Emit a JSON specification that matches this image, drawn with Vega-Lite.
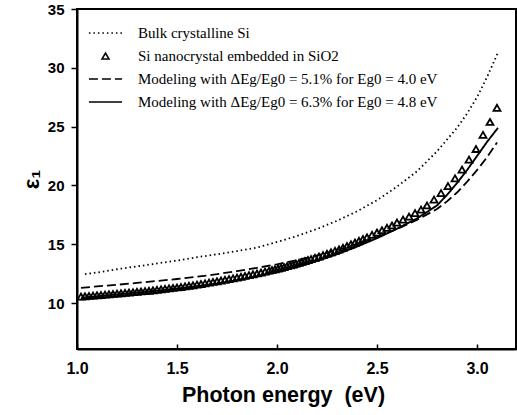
{
  "$schema": "https://vega.github.io/schema/vega-lite/v6.json",
  "width": 439,
  "height": 340,
  "autosize": "none",
  "padding": {"left": 77, "top": 9, "right": 1, "bottom": 66},
  "background": "white",
  "datasets": {
    "bulk": [
      {"E": 1.04, "eps": 12.47}, {"E": 1.1, "eps": 12.6}, {"E": 1.2, "eps": 12.88}, {"E": 1.3, "eps": 13.12},
      {"E": 1.4, "eps": 13.37}, {"E": 1.5, "eps": 13.62}, {"E": 1.6, "eps": 13.9}, {"E": 1.7, "eps": 14.15},
      {"E": 1.8, "eps": 14.42}, {"E": 1.9, "eps": 14.72}, {"E": 2.0, "eps": 15.2}, {"E": 2.1, "eps": 15.7},
      {"E": 2.2, "eps": 16.3}, {"E": 2.3, "eps": 17.0}, {"E": 2.4, "eps": 17.8}, {"E": 2.5, "eps": 18.75},
      {"E": 2.6, "eps": 19.9}, {"E": 2.7, "eps": 21.2}, {"E": 2.8, "eps": 22.9}, {"E": 2.9, "eps": 24.9},
      {"E": 2.95, "eps": 26.1}, {"E": 3.0, "eps": 27.5}, {"E": 3.05, "eps": 29.2}, {"E": 3.105, "eps": 31.3}
    ],
    "m1": [
      {"E": 1.02, "eps": 11.3}, {"E": 1.1, "eps": 11.42}, {"E": 1.2, "eps": 11.56}, {"E": 1.3, "eps": 11.72},
      {"E": 1.4, "eps": 11.88}, {"E": 1.5, "eps": 12.05}, {"E": 1.6, "eps": 12.24}, {"E": 1.7, "eps": 12.46},
      {"E": 1.8, "eps": 12.72}, {"E": 1.9, "eps": 13.0}, {"E": 2.0, "eps": 13.3}, {"E": 2.1, "eps": 13.65},
      {"E": 2.2, "eps": 14.05}, {"E": 2.3, "eps": 14.5}, {"E": 2.4, "eps": 15.02}, {"E": 2.5, "eps": 15.62},
      {"E": 2.6, "eps": 16.3}, {"E": 2.7, "eps": 17.08}, {"E": 2.8, "eps": 18.0}, {"E": 2.85, "eps": 18.65},
      {"E": 2.9, "eps": 19.4}, {"E": 2.95, "eps": 20.3}, {"E": 3.0, "eps": 21.3}, {"E": 3.05, "eps": 22.4},
      {"E": 3.1, "eps": 23.65}
    ],
    "m2": [
      {"E": 1.02, "eps": 10.45}, {"E": 1.1, "eps": 10.58}, {"E": 1.2, "eps": 10.74}, {"E": 1.3, "eps": 10.9},
      {"E": 1.4, "eps": 11.06}, {"E": 1.5, "eps": 11.24}, {"E": 1.6, "eps": 11.44}, {"E": 1.7, "eps": 11.67},
      {"E": 1.8, "eps": 11.94}, {"E": 1.9, "eps": 12.26}, {"E": 2.0, "eps": 12.64}, {"E": 2.1, "eps": 13.08},
      {"E": 2.2, "eps": 13.58}, {"E": 2.3, "eps": 14.15}, {"E": 2.4, "eps": 14.8}, {"E": 2.5, "eps": 15.52},
      {"E": 2.6, "eps": 16.32}, {"E": 2.7, "eps": 17.2}, {"E": 2.8, "eps": 18.3}, {"E": 2.85, "eps": 19.2},
      {"E": 2.9, "eps": 20.2}, {"E": 2.95, "eps": 21.3}, {"E": 3.0, "eps": 22.5}, {"E": 3.05, "eps": 23.7},
      {"E": 3.105, "eps": 24.9}
    ],
    "nc": [
      {"E": 3.1, "eps": 26.6}, {"E": 3.065, "eps": 25.4}, {"E": 3.03, "eps": 24.3}, {"E": 2.995, "eps": 23.1},
      {"E": 2.96, "eps": 22.2}, {"E": 2.925, "eps": 21.35}, {"E": 2.89, "eps": 20.6}, {"E": 2.855, "eps": 19.95},
      {"E": 2.82, "eps": 19.35}, {"E": 2.785, "eps": 18.8}, {"E": 2.75, "eps": 18.3}, {"E": 2.72, "eps": 17.95},
      {"E": 2.69, "eps": 17.65}, {"E": 2.66, "eps": 17.35}, {"E": 2.63, "eps": 17.1}, {"E": 2.6, "eps": 16.85},
      {"E": 2.575, "eps": 16.6}, {"E": 2.55, "eps": 16.4}, {"E": 2.525, "eps": 16.2}, {"E": 2.5, "eps": 16.0},
      {"E": 2.475, "eps": 15.8}, {"E": 2.45, "eps": 15.6}, {"E": 2.43, "eps": 15.45}, {"E": 2.41, "eps": 15.3},
      {"E": 2.39, "eps": 15.15}, {"E": 2.37, "eps": 15.0}, {"E": 2.35, "eps": 14.85}, {"E": 2.33, "eps": 14.7},
      {"E": 2.31, "eps": 14.57}, {"E": 2.29, "eps": 14.44}, {"E": 2.27, "eps": 14.32}, {"E": 2.25, "eps": 14.2},
      {"E": 2.23, "eps": 14.08}, {"E": 2.21, "eps": 13.96}, {"E": 2.19, "eps": 13.85}, {"E": 2.17, "eps": 13.74},
      {"E": 2.155, "eps": 13.66}, {"E": 2.14, "eps": 13.58}, {"E": 2.125, "eps": 13.5}, {"E": 2.11, "eps": 13.42},
      {"E": 2.095, "eps": 13.35}, {"E": 2.08, "eps": 13.28}, {"E": 2.065, "eps": 13.21}, {"E": 2.05, "eps": 13.14},
      {"E": 2.035, "eps": 13.07}, {"E": 2.02, "eps": 13.0}, {"E": 2.005, "eps": 12.94}, {"E": 1.99, "eps": 12.88},
      {"E": 1.975, "eps": 12.82}, {"E": 1.96, "eps": 12.76}, {"E": 1.94, "eps": 12.68}, {"E": 1.92, "eps": 12.6},
      {"E": 1.9, "eps": 12.52}, {"E": 1.88, "eps": 12.45}, {"E": 1.86, "eps": 12.38}, {"E": 1.84, "eps": 12.31},
      {"E": 1.82, "eps": 12.24}, {"E": 1.8, "eps": 12.17}, {"E": 1.78, "eps": 12.1}, {"E": 1.76, "eps": 12.04},
      {"E": 1.74, "eps": 11.98}, {"E": 1.72, "eps": 11.92}, {"E": 1.7, "eps": 11.86}, {"E": 1.68, "eps": 11.8},
      {"E": 1.66, "eps": 11.74}, {"E": 1.64, "eps": 11.68}, {"E": 1.62, "eps": 11.62}, {"E": 1.6, "eps": 11.57},
      {"E": 1.58, "eps": 11.52}, {"E": 1.56, "eps": 11.47}, {"E": 1.54, "eps": 11.42}, {"E": 1.52, "eps": 11.37},
      {"E": 1.5, "eps": 11.33}, {"E": 1.48, "eps": 11.29}, {"E": 1.46, "eps": 11.25}, {"E": 1.44, "eps": 11.21},
      {"E": 1.42, "eps": 11.17}, {"E": 1.4, "eps": 11.13}, {"E": 1.38, "eps": 11.09}, {"E": 1.36, "eps": 11.05},
      {"E": 1.34, "eps": 11.02}, {"E": 1.32, "eps": 10.99}, {"E": 1.3, "eps": 10.96}, {"E": 1.28, "eps": 10.93},
      {"E": 1.26, "eps": 10.9}, {"E": 1.24, "eps": 10.87}, {"E": 1.22, "eps": 10.84}, {"E": 1.2, "eps": 10.81},
      {"E": 1.18, "eps": 10.78}, {"E": 1.16, "eps": 10.75}, {"E": 1.14, "eps": 10.72}, {"E": 1.12, "eps": 10.69},
      {"E": 1.1, "eps": 10.67}, {"E": 1.08, "eps": 10.64}, {"E": 1.06, "eps": 10.61}, {"E": 1.04, "eps": 10.58},
      {"E": 1.02, "eps": 10.55}
    ]
  },
  "encoding": {
    "x": {
      "field": "E", "type": "quantitative",
      "scale": {"domain": [1.0, 3.195], "nice": false, "zero": false},
      "axis": {
        "title": "Photon energy\u00a0 (eV)", "values": [1, 1.5, 2, 2.5, 3], "format": ".1f",
        "tickSize": -5, "labelFontSize": 16, "labelPadding": 16, "labelFlush": false,
        "titleFontSize": 21.5, "titlePadding": 8, "titleX": 206
      }
    },
    "y": {
      "field": "eps", "type": "quantitative",
      "scale": {"domain": [6.1, 35], "nice": false, "zero": false},
      "axis": {
        "title": "ε₁", "values": [10, 15, 20, 25, 30, 35], "labelFlush": false,
        "tickSize": 6, "labelFontSize": 15, "labelPadding": 7,
        "titleFontSize": 22, "titlePadding": 4
      }
    }
  },
  "layer": [
    {
      "data": {"name": "nc"},
      "mark": {"type": "point", "filled": false, "strokeWidth": 1.8, "opacity": 1},
      "encoding": {
        "color": {
          "datum": "Si nanocrystal embedded in SiO2",
          "scale": {
            "domain": [
              "Bulk crystalline Si",
              "Si nanocrystal embedded in SiO2",
              "Modeling with ΔEg/Eg0 = 5.1% for Eg0 = 4.0 eV",
              "Modeling with ΔEg/Eg0 = 6.3% for Eg0 = 4.8 eV"
            ],
            "range": ["black", "black", "black", "black"]
          }
        },
        "shape": {
          "datum": "Si nanocrystal embedded in SiO2",
          "scale": {
            "domain": [
              "Bulk crystalline Si",
              "Si nanocrystal embedded in SiO2",
              "Modeling with ΔEg/Eg0 = 5.1% for Eg0 = 4.0 eV",
              "Modeling with ΔEg/Eg0 = 6.3% for Eg0 = 4.8 eV"
            ],
            "range": ["stroke", "triangle-up", "stroke", "stroke"]
          }
        },
        "size": {
          "datum": "Si nanocrystal embedded in SiO2",
          "scale": {
            "type": "ordinal",
            "domain": [
              "Bulk crystalline Si",
              "Si nanocrystal embedded in SiO2",
              "Modeling with ΔEg/Eg0 = 5.1% for Eg0 = 4.0 eV",
              "Modeling with ΔEg/Eg0 = 6.3% for Eg0 = 4.8 eV"
            ],
            "range": [1100, 48, 1100, 1100]
          }
        }
      }
    },
    {
      "data": {"name": "bulk"},
      "mark": {"type": "line", "strokeWidth": 1.8},
      "encoding": {
        "color": {"datum": "Bulk crystalline Si"},
        "strokeDash": {
          "datum": "Bulk crystalline Si",
          "scale": {
            "domain": [
              "Bulk crystalline Si",
              "Si nanocrystal embedded in SiO2",
              "Modeling with ΔEg/Eg0 = 5.1% for Eg0 = 4.0 eV",
              "Modeling with ΔEg/Eg0 = 6.3% for Eg0 = 4.8 eV"
            ],
            "range": [[1.5, 3], [1, 0], [9, 4], [1, 0]]
          }
        }
      }
    },
    {
      "data": {"name": "m1"},
      "mark": {"type": "line", "strokeWidth": 1.8},
      "encoding": {
        "color": {"datum": "Modeling with ΔEg/Eg0 = 5.1% for Eg0 = 4.0 eV"},
        "strokeDash": {"datum": "Modeling with ΔEg/Eg0 = 5.1% for Eg0 = 4.0 eV"}
      }
    },
    {
      "data": {"name": "m2"},
      "mark": {"type": "line", "strokeWidth": 1.9},
      "encoding": {
        "color": {"datum": "Modeling with ΔEg/Eg0 = 6.3% for Eg0 = 4.8 eV"},
        "strokeDash": {"datum": "Modeling with ΔEg/Eg0 = 6.3% for Eg0 = 4.8 eV"}
      }
    }
  ],
  "config": {
    "font": "Liberation Sans",
    "view": {"stroke": "black", "strokeWidth": 2},
    "axis": {
      "domainColor": "black", "domainWidth": 2, "tickColor": "black", "tickWidth": 1.5,
      "labelColor": "black", "titleColor": "black", "grid": false,
      "labelFont": "Liberation Sans", "labelFontWeight": "bold",
      "titleFont": "Liberation Sans", "titleFontWeight": "bold"
    },
    "legend": {
      "orient": "none", "legendX": 11, "legendY": 14, "title": null,
      "labelFont": "Liberation Serif", "labelFontSize": 15, "labelColor": "black",
      "labelOffset": 15, "labelLimit": 0, "clipHeight": 20, "rowPadding": 3, "padding": 0,
      "symbolStrokeWidth": 1.6, "symbolStrokeColor": "black", "symbolFillColor": "black"
    }
  }
}
